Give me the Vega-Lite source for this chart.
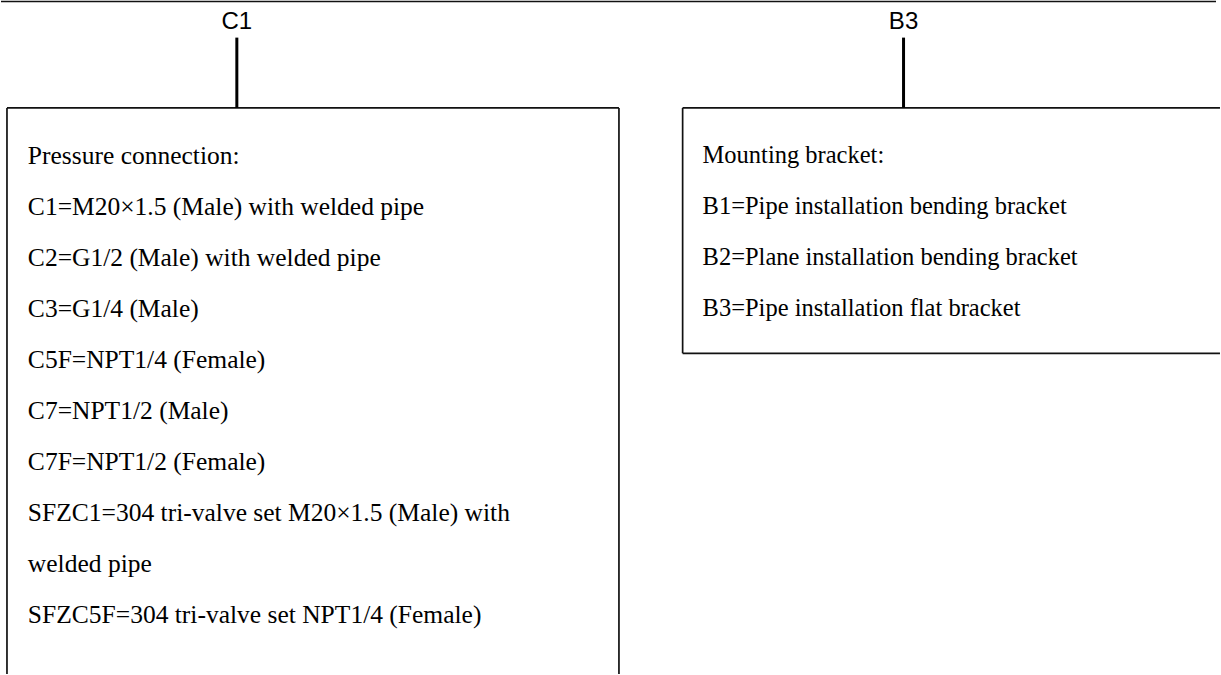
{
  "$schema": "https://vega.github.io/schema/vega-lite/v6.json",
  "width": 1221,
  "height": 675,
  "autosize": {"type": "fit", "contains": "padding"},
  "padding": 0,
  "background": "white",
  "config": {"view": {"stroke": null}},
  "datasets": {
    "frame": [
      {"x": 0, "y": 0.5, "x2": 1221, "y2": 0.5},
      {"x": 6, "y": 108, "x2": 621, "y2": 108},
      {"x": 6, "y": 108, "x2": 6, "y2": 680},
      {"x": 621, "y": 108, "x2": 621, "y2": 680},
      {"x": 685, "y": 108, "x2": 1225, "y2": 108},
      {"x": 685, "y": 108, "x2": 685, "y2": 356},
      {"x": 685, "y": 356, "x2": 1225, "y2": 356}
    ],
    "stems": [
      {"x": 237, "y": 37, "x2": 237, "y2": 108},
      {"x": 907, "y": 37, "x2": 907, "y2": 108}
    ],
    "labels": [
      {"x": 237, "y": 21, "text": "C1"},
      {"x": 907, "y": 21, "text": "B3"}
    ],
    "left": [
      {"x": 27, "y": 157, "text": "Pressure connection:"},
      {"x": 27, "y": 208.5, "text": "C1=M20×1.5 (Male) with welded pipe"},
      {"x": 27, "y": 260, "text": "C2=G1/2 (Male) with welded pipe"},
      {"x": 27, "y": 311.5, "text": "C3=G1/4 (Male)"},
      {"x": 27, "y": 363, "text": "C5F=NPT1/4 (Female)"},
      {"x": 27, "y": 414.5, "text": "C7=NPT1/2 (Male)"},
      {"x": 27, "y": 466, "text": "C7F=NPT1/2 (Female)"},
      {"x": 27, "y": 517.5, "text": "SFZC1=304 tri-valve set M20×1.5 (Male) with"},
      {"x": 27, "y": 569, "text": "welded pipe"},
      {"x": 27, "y": 620.5, "text": "SFZC5F=304 tri-valve set NPT1/4 (Female)"}
    ],
    "right": [
      {"x": 705, "y": 157, "text": "Mounting bracket:"},
      {"x": 705, "y": 208.5, "text": "B1=Pipe installation bending bracket"},
      {"x": 705, "y": 260, "text": "B2=Plane installation bending bracket"},
      {"x": 705, "y": 311.5, "text": "B3=Pipe installation flat bracket"}
    ]
  },
  "layer": [
    {
      "data": {"name": "frame"},
      "mark": {"type": "rule", "color": "#111111", "strokeWidth": 1.7},
      "encoding": {
        "x": {"field": "x", "type": "quantitative", "scale": {"domain": [0, 1221]}, "axis": null},
        "y": {"field": "y", "type": "quantitative", "scale": {"domain": [0, 675], "reverse": true}, "axis": null},
        "x2": {"field": "x2"},
        "y2": {"field": "y2"}
      }
    },
    {
      "data": {"name": "stems"},
      "mark": {"type": "rule", "color": "#000000", "strokeWidth": 3},
      "encoding": {
        "x": {"field": "x", "type": "quantitative", "scale": {"domain": [0, 1221]}, "axis": null},
        "y": {"field": "y", "type": "quantitative", "scale": {"domain": [0, 675], "reverse": true}, "axis": null},
        "x2": {"field": "x2"},
        "y2": {"field": "y2"}
      }
    },
    {
      "data": {"name": "labels"},
      "mark": {"type": "text", "font": "Liberation Sans", "fontSize": 24, "color": "#000000", "align": "center", "baseline": "middle"},
      "encoding": {
        "x": {"field": "x", "type": "quantitative", "scale": {"domain": [0, 1221]}, "axis": null},
        "y": {"field": "y", "type": "quantitative", "scale": {"domain": [0, 675], "reverse": true}, "axis": null},
        "text": {"field": "text"}
      }
    },
    {
      "data": {"name": "left"},
      "mark": {"type": "text", "font": "Liberation Serif", "fontSize": 25.5, "color": "#000000", "align": "left", "baseline": "middle"},
      "encoding": {
        "x": {"field": "x", "type": "quantitative", "scale": {"domain": [0, 1221]}, "axis": null},
        "y": {"field": "y", "type": "quantitative", "scale": {"domain": [0, 675], "reverse": true}, "axis": null},
        "text": {"field": "text"}
      }
    },
    {
      "data": {"name": "right"},
      "mark": {"type": "text", "font": "Liberation Serif", "fontSize": 24.5, "color": "#000000", "align": "left", "baseline": "middle"},
      "encoding": {
        "x": {"field": "x", "type": "quantitative", "scale": {"domain": [0, 1221]}, "axis": null},
        "y": {"field": "y", "type": "quantitative", "scale": {"domain": [0, 675], "reverse": true}, "axis": null},
        "text": {"field": "text"}
      }
    }
  ]
}
